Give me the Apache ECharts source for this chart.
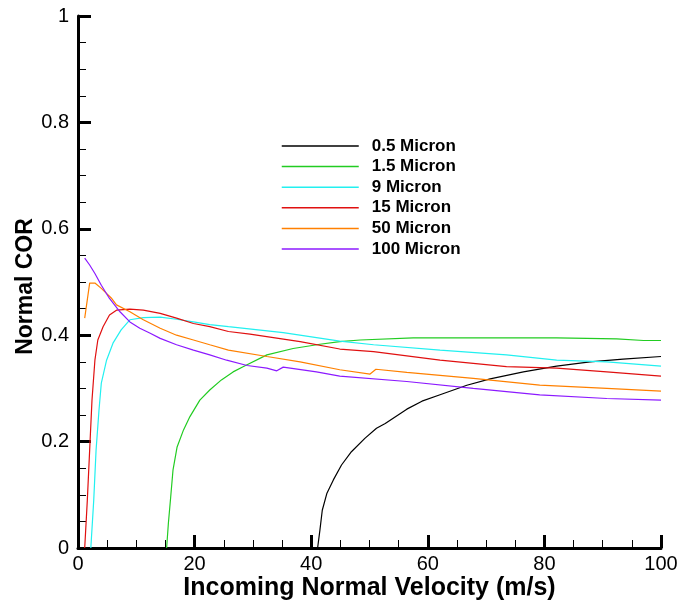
<!DOCTYPE html>
<html>
<head>
<meta charset="utf-8">
<script src="https://cdn.jsdelivr.net/npm/echarts@6/dist/echarts.min.js"></script>
<style>html,body{margin:0;padding:0;background:#fff}#c{width:680px;height:603px}</style>
</head>
<body>
<div id="c"></div>
<script>
var seriesNames = ['0.5 Micron', '1.5 Micron', '9 Micron', '15 Micron', '50 Micron', '100 Micron'];
var xTicks = [0, 20, 40, 60, 80, 100];
var yTicks = [0, 0.2, 0.4, 0.6, 0.8, 1];

var x05 = [41.1, 41.5, 41.9, 42.7, 43.8, 45.2, 46.9, 49.2, 51.2, 52.7, 56.4, 59.0, 62.1, 66.7, 70.7, 76.4, 82.1, 87.8, 93.5, 100];
var y05 = [0.0, 0.034, 0.071, 0.103, 0.128, 0.156, 0.181, 0.206, 0.225, 0.234, 0.261, 0.276, 0.288, 0.306, 0.318, 0.331, 0.342, 0.350, 0.355, 0.360];

var x15 = [15.2, 15.5, 15.9, 16.3, 17.0, 18.1, 19.2, 20.9, 22.6, 24.6, 26.6, 28.4, 32.4, 36.9, 41.5, 44.9, 48.4, 57.5, 70.0, 82.1, 92.4, 97.0, 100];
var y15 = [0.0, 0.046, 0.096, 0.147, 0.190, 0.222, 0.247, 0.278, 0.297, 0.316, 0.331, 0.341, 0.363, 0.375, 0.383, 0.388, 0.391, 0.395, 0.395, 0.395, 0.393, 0.390, 0.390];

var x9 = [2.2, 2.7, 3.1, 3.6, 4.0, 4.9, 6.0, 7.4, 8.9, 11.2, 14.1, 16.9, 19.8, 22.6, 25.8, 35.2, 44.9, 50.7, 62.1, 73.5, 82.1, 90.7, 100];
var y9 = [0.0, 0.09, 0.184, 0.259, 0.310, 0.353, 0.385, 0.410, 0.429, 0.433, 0.434, 0.430, 0.425, 0.420, 0.416, 0.405, 0.389, 0.382, 0.372, 0.363, 0.353, 0.350, 0.342];

var x15m = [1.15, 1.6, 2.0, 2.4, 2.9, 3.4, 4.3, 5.4, 6.6, 8.9, 11.2, 14.1, 16.9, 19.8, 22.6, 25.8, 29.5, 38.1, 44.9, 50.7, 62.1, 73.5, 82.1, 90.7, 100];
var y15m = [0.0, 0.090, 0.184, 0.278, 0.353, 0.391, 0.416, 0.438, 0.447, 0.449, 0.447, 0.441, 0.432, 0.422, 0.416, 0.407, 0.402, 0.388, 0.374, 0.369, 0.353, 0.341, 0.338, 0.331, 0.323];

var x50 = [1.15, 2.0, 2.9, 4.0, 5.7, 6.6, 8.9, 11.2, 14.1, 16.9, 19.8, 22.6, 25.8, 32.4, 38.1, 44.9, 50.1, 51.1, 56.4, 67.8, 79.2, 90.7, 100];
var y50 = [0.432, 0.498, 0.498, 0.488, 0.470, 0.457, 0.444, 0.429, 0.413, 0.400, 0.391, 0.382, 0.372, 0.360, 0.350, 0.335, 0.327, 0.336, 0.330, 0.319, 0.306, 0.300, 0.295];

var x100 = [1.15, 2.0, 2.9, 4.0, 5.4, 7.2, 8.9, 10.6, 12.3, 14.1, 16.9, 19.8, 22.6, 25.5, 29.0, 32.4, 34.1, 35.2, 40.9, 44.9, 56.4, 67.8, 79.2, 90.7, 100];
var y100 = [0.545, 0.532, 0.516, 0.494, 0.469, 0.444, 0.425, 0.413, 0.404, 0.394, 0.382, 0.372, 0.363, 0.353, 0.343, 0.338, 0.333, 0.340, 0.331, 0.323, 0.313, 0.300, 0.288, 0.281, 0.278];

var xs = [x05, x15, x9, x15m, x50, x100];
var ys = [y05, y15, y9, y15m, y50, y100];
var colors = ['#000000', '#22cc22', '#22f0f0', '#e01010', '#ff8000', '#8c1aff'];

function zip(a, b) { return a.map(function (v, i) { return [v, b[i]]; }); }

var series = seriesNames.map(function (n, i) {
  return {
    name: n, type: 'line', symbol: 'none', smooth: false,
    data: zip(xs[i], ys[i]),
    lineStyle: { color: colors[i], width: 1.2 },
    itemStyle: { color: colors[i] },
    animation: false
  };
});

var FONT = 'Liberation Sans, Arial, sans-serif';
var chart = echarts.init(document.getElementById('c'), null, { renderer: 'canvas' });
chart.setOption({
  animation: false,
  backgroundColor: '#ffffff',
  grid: { left: 78, right: 19, top: 16, bottom: 55, containLabel: false, outerBoundsMode: 'none' },
  legend: {
    orient: 'vertical', left: 281, top: 136, padding: 0,
    itemWidth: 77, itemHeight: 20, itemGap: 0.6,
    data: seriesNames,
    itemStyle: { opacity: 0 },
    textStyle: { fontFamily: FONT, fontWeight: 'bold', fontSize: 17, color: '#000', lineHeight: 20, padding: [0, 0, 0, 8] },
    lineStyle: { width: 1.5 }
  },
  xAxis: {
    type: 'value', min: 0, max: 100, interval: 20,
    name: 'Incoming Normal Velocity (m/s)', nameLocation: 'middle', nameGap: 28, nameMoveOverlap: false,
    nameTextStyle: { fontFamily: FONT, fontWeight: 'bold', fontSize: 25, color: '#000' },
    axisLine: { show: true, lineStyle: { color: '#000', width: 3 } },
    axisTick: { show: true, inside: true, length: 13, lineStyle: { color: '#000', width: 3 } },
    minorTick: { show: true, splitNumber: 4, length: 8, lineStyle: { color: '#000', width: 1 } },
    axisLabel: { fontFamily: FONT, fontSize: 20, color: '#000', margin: 6,
      formatter: function (v) { return xTicks.indexOf(v) >= 0 ? String(v) : ''; } },
    splitLine: { show: false }
  },
  yAxis: {
    type: 'value', min: 0, max: 1, interval: 0.2,
    name: 'Normal COR', nameLocation: 'middle', nameGap: 41, nameRotate: 90, nameMoveOverlap: false,
    nameTextStyle: { fontFamily: FONT, fontWeight: 'bold', fontSize: 23, color: '#000', padding: [0, 9, 0, 0] },
    axisLine: { show: true, lineStyle: { color: '#000', width: 3 } },
    axisTick: { show: true, inside: true, length: 13, lineStyle: { color: '#000', width: 3 } },
    minorTick: { show: true, splitNumber: 4, length: 8, lineStyle: { color: '#000', width: 1 } },
    axisLabel: { fontFamily: FONT, fontSize: 20, color: '#000', margin: 9,
      formatter: function (v) {
        for (var i = 0; i < yTicks.length; i++) { if (Math.abs(yTicks[i] - v) < 1e-9) return String(yTicks[i]); }
        return '';
      } },
    splitLine: { show: false }
  },
  series: series
});
</script>
</body>
</html>
